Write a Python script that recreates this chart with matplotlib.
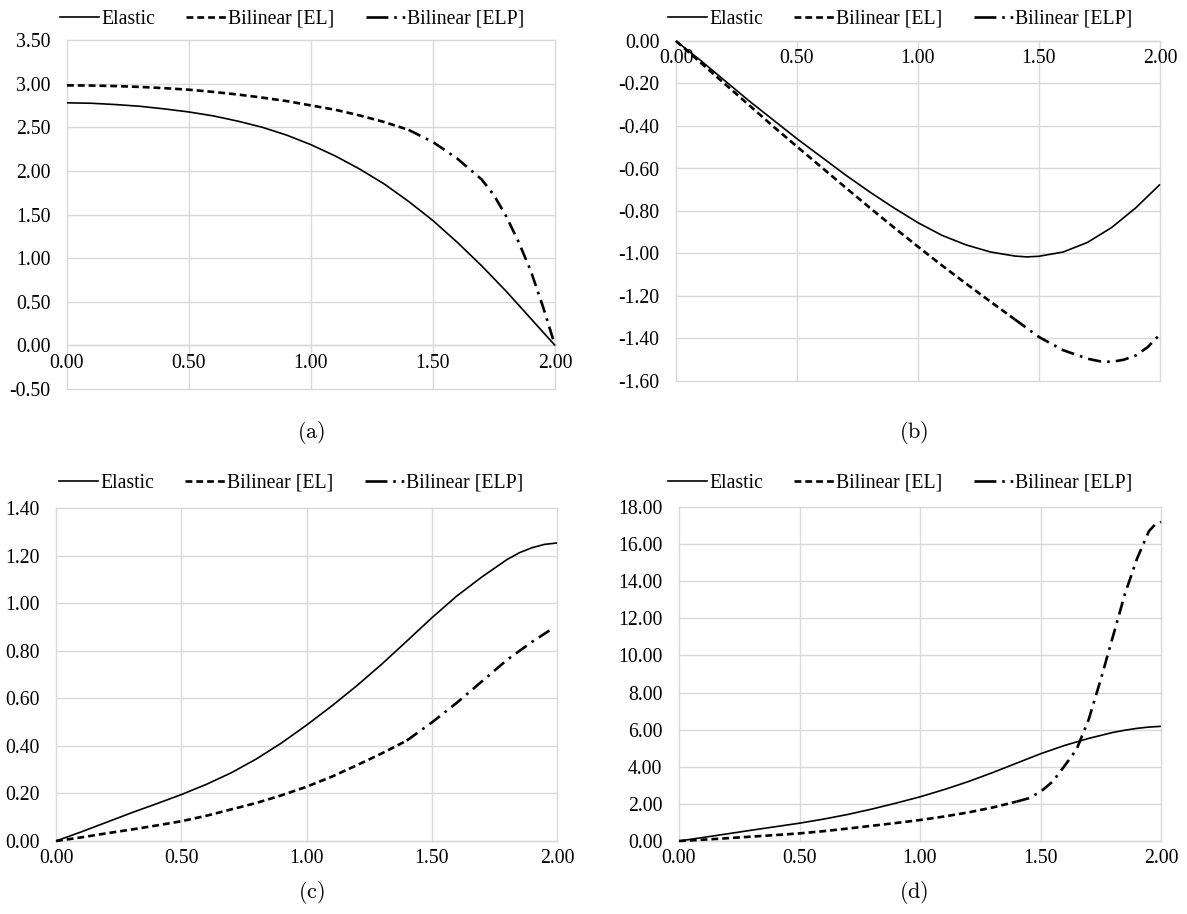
import matplotlib
matplotlib.use("Agg")
import matplotlib.pyplot as plt
from matplotlib.lines import Line2D
from matplotlib.ticker import MultipleLocator, FormatStrFormatter

plt.rcParams['font.family'] = ['Liberation Serif', 'DejaVu Serif']
plt.rcParams['axes.unicode_minus'] = False
plt.rcParams['mathtext.fontset'] = 'cm'

# ---------------- data ----------------
# Bilinear [EL] portion x (0 .. 1.4), shared by all panels
x_bl = [0.0, 0.1, 0.2, 0.3, 0.4, 0.5, 0.6, 0.7, 0.8, 0.9, 1.0,
        1.1, 1.2, 1.3, 1.4]

# (a)
a_x = [0.0, 0.1, 0.2, 0.3, 0.4, 0.5, 0.6, 0.7, 0.8, 0.9, 1.0,
       1.1, 1.2, 1.3, 1.4, 1.5, 1.6, 1.7, 1.8, 1.9, 2.0]
a_elastic = [2.78, 2.775, 2.76, 2.74, 2.71, 2.675, 2.63, 2.57, 2.50, 2.41, 2.30,
             2.17, 2.02, 1.85, 1.65, 1.43, 1.18, 0.91, 0.62, 0.31, 0.00]
a_el = [2.98, 2.978, 2.972, 2.962, 2.948, 2.93, 2.905, 2.875, 2.84, 2.80, 2.75,
        2.70, 2.635, 2.56, 2.47]
a_elp_x = [1.4, 1.5, 1.6, 1.7, 1.75, 1.8, 1.85, 1.9, 1.95, 2.0]
a_elp = [2.47, 2.33, 2.14, 1.90, 1.72, 1.48, 1.19, 0.86, 0.45, 0.00]

# (b)
b_x = [0.0, 0.1, 0.2, 0.3, 0.4, 0.5, 0.6, 0.7, 0.8, 0.9, 1.0,
       1.1, 1.2, 1.3, 1.4, 1.45, 1.5, 1.6, 1.7, 1.8, 1.9, 2.0]
b_elastic = [0.0, -0.09, -0.185, -0.28, -0.37, -0.46, -0.545, -0.63, -0.71, -0.785, -0.855,
             -0.915, -0.96, -0.993, -1.012, -1.016, -1.013, -0.993, -0.948, -0.878, -0.785, -0.675]
b_el = [0.0, -0.10, -0.20, -0.30, -0.40, -0.497, -0.593, -0.689, -0.784, -0.877, -0.968,
        -1.057, -1.143, -1.227, -1.31]
b_elp_x = [1.4, 1.5, 1.6, 1.7, 1.75, 1.8, 1.85, 1.9, 1.95, 2.0]
b_elp = [-1.31, -1.393, -1.455, -1.495, -1.507, -1.51, -1.50, -1.48, -1.44, -1.38]

# (c)
c_x = [0.0, 0.1, 0.2, 0.3, 0.4, 0.5, 0.6, 0.7, 0.8, 0.9, 1.0,
       1.1, 1.2, 1.3, 1.4, 1.5, 1.6, 1.7, 1.8, 1.85, 1.9, 1.95, 2.0]
c_elastic = [0.0, 0.038, 0.078, 0.118, 0.156, 0.195, 0.238, 0.287, 0.345, 0.412, 0.487,
             0.567, 0.652, 0.743, 0.84, 0.938, 1.03, 1.11, 1.183, 1.212, 1.233, 1.247, 1.253]
c_el = [0.0, 0.015, 0.032, 0.048, 0.065, 0.083, 0.106, 0.133, 0.16, 0.192, 0.228,
        0.27, 0.318, 0.368, 0.422]
c_elp_x = [1.4, 1.5, 1.6, 1.7, 1.8, 1.9, 1.97]
c_elp = [0.422, 0.498, 0.581, 0.671, 0.761, 0.837, 0.885]

# (d)
d_x = [0.0, 0.1, 0.2, 0.3, 0.4, 0.5, 0.6, 0.7, 0.8, 0.9, 1.0,
       1.1, 1.2, 1.3, 1.4, 1.5, 1.6, 1.7, 1.8, 1.85, 1.9, 1.95, 2.0]
d_elastic = [0.0, 0.19, 0.385, 0.58, 0.77, 0.96, 1.18, 1.43, 1.72, 2.04, 2.38,
             2.77, 3.20, 3.68, 4.19, 4.70, 5.15, 5.53, 5.85, 5.97, 6.07, 6.14, 6.18]
d_el = [0.0, 0.07, 0.15, 0.235, 0.32, 0.41, 0.53, 0.67, 0.82, 0.97, 1.13,
        1.32, 1.54, 1.80, 2.12]
d_elp_x = [1.4, 1.45, 1.5, 1.55, 1.6, 1.65, 1.7, 1.75, 1.8, 1.85, 1.9, 1.95, 1.975, 2.0]
d_elp = [2.12, 2.30, 2.65, 3.20, 4.05, 4.95, 6.55, 8.70, 11.0, 13.3, 15.2, 16.7, 17.05, 17.2]

series_names = ["Elastic", "Bilinear [EL]", "Bilinear [ELP]"]
captions = ["(a)", "(b)", "(c)", "(d)"]

# ---------------- layout ----------------
W, H = 1187, 914
fig = plt.figure(figsize=(W / 100, H / 100), dpi=100)

def px_axes(l, r, t, b):
    return fig.add_axes([l / W, 1 - b / H, (r - l) / W, (b - t) / H])

panels = [
    dict(box=(67, 555, 40, 389), ylim=(-0.5, 3.5), ystep=0.5,
         data=(a_x, a_elastic, a_el, a_elp_x, a_elp), cross0=True,
         leg=(292, 17), cap=(311, 432)),
    dict(box=(676, 1160, 41, 381), ylim=(-1.6, 0.0), ystep=0.2,
         data=(b_x, b_elastic, b_el, b_elp_x, b_elp), cross0=True,
         leg=(900, 17), cap=(914, 432)),
    dict(box=(56, 557, 508, 841), ylim=(0.0, 1.4), ystep=0.2,
         data=(c_x, c_elastic, c_el, c_elp_x, c_elp), cross0=False,
         leg=(291, 481), cap=(311, 893)),
    dict(box=(679, 1161, 507, 841), ylim=(0.0, 18.0), ystep=2.0,
         data=(d_x, d_elastic, d_el, d_elp_x, d_elp), cross0=False,
         leg=(900, 481), cap=(914, 893)),
]

grid_c = '#d9d9d9'
FS = 14.2
EL_DASH = (2.6, 1.5)
ELP_DASH = (5.0, 2.3, 1.0, 2.3)

for i, p in enumerate(panels):
    ax = px_axes(*p['box'])
    xe, el, bl, ex, ep = p['data']
    ax.plot(xe, el, color='black', lw=1.2, solid_capstyle='butt',
            solid_joinstyle='round', clip_on=False, zorder=3)
    ax.plot(x_bl, bl, color='black', lw=1.9, dashes=EL_DASH,
            dash_capstyle='butt', clip_on=False, zorder=3)
    ax.plot(ex, ep, color='black', lw=1.9, dashes=ELP_DASH,
            dash_capstyle='butt', clip_on=False, zorder=3)
    ax.set_xlim(0, 2)
    ax.set_ylim(*p['ylim'])
    ax.xaxis.set_major_locator(MultipleLocator(0.5))
    ax.yaxis.set_major_locator(MultipleLocator(p['ystep']))
    ax.xaxis.set_major_formatter(FormatStrFormatter('%.2f'))
    ax.yaxis.set_major_formatter(FormatStrFormatter('%.2f'))
    ax.grid(True, color=grid_c, lw=1.0, zorder=0, clip_on=False)
    ax.set_axisbelow(True)
    for s in ['top', 'right', 'left']:
        ax.spines[s].set_visible(False)
    ax.spines['bottom'].set_color(grid_c)
    ax.spines['bottom'].set_linewidth(1.0)
    if p['cross0']:
        ax.spines['bottom'].set_position(('data', 0))
    ax.tick_params(axis='both', length=0, labelsize=FS, colors='black')
    ax.tick_params(axis='x', pad=6)
    ax.tick_params(axis='y', pad=12)

    # legend proxies (styles only)
    h1 = Line2D([], [], color='black', lw=1.2)
    h2 = Line2D([], [], color='black', lw=1.9, dashes=EL_DASH, dash_capstyle='butt')
    h3 = Line2D([], [], color='black', lw=1.9, dashes=(8.3, 2.2, 1.0, 2.2, 1.0, 3.0),
                dash_capstyle='butt')
    ax.legend(handles=[h1, h2, h3], labels=series_names, loc='center',
              bbox_to_anchor=(p['leg'][0] / W, 1 - (p['leg'][1] + 2) / H),
              bbox_transform=fig.transFigure, ncol=3, frameon=False,
              fontsize=FS, handlelength=2.0, handletextpad=0.1,
              columnspacing=1.6, borderpad=0, borderaxespad=0)
    fig.text(p['cap'][0] / W, 1 - p['cap'][1] / H, r'$\mathrm{' + captions[i] + '}$',
             ha='center', va='center', fontsize=16)

fig.savefig('out.png', dpi=100, facecolor='white')
